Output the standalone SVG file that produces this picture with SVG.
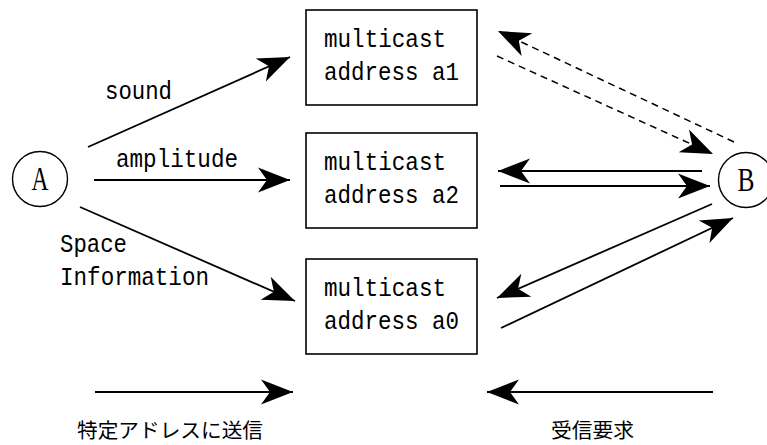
<svg xmlns="http://www.w3.org/2000/svg" width="767" height="445" viewBox="0 0 767 445">
<style>
.t{font-family:"Liberation Mono","DejaVu Sans Mono",monospace;font-size:26px;fill:#000}
.j{font-family:"Noto Sans CJK JP","Noto Sans CJK SC",sans-serif;font-size:20px;fill:#000}
.box{fill:#fff;stroke:#000;stroke-width:1.6}
.c{fill:#fff;stroke:#000;stroke-width:1.4}
.l{fill:none;stroke:#000;stroke-width:1.8}
.d{fill:none;stroke:#000;stroke-width:1.5;stroke-dasharray:7,5}
.big{font-family:"Liberation Serif","DejaVu Serif",serif;font-size:34px;fill:#000}
</style>
<defs>
<marker id="ah" markerUnits="userSpaceOnUse" markerWidth="36" markerHeight="30" viewBox="-33 -14 36 28" refX="0" refY="0" orient="auto">
<path d="M0,0 L-32,-12.5 L-23,0 L-32,12.5 Z" fill="#000"/>
</marker>
</defs>
<rect width="767" height="445" fill="#fff"/>
<g id="connectors">
<line class="l" x1="88" y1="147" x2="290" y2="57" marker-end="url(#ah)"/>
<line class="l" x1="94" y1="180" x2="290" y2="180" marker-end="url(#ah)"/>
<line class="l" x1="80" y1="207" x2="295" y2="301" marker-end="url(#ah)"/>
<line class="d" x1="734" y1="142" x2="498" y2="31" marker-end="url(#ah)"/>
<line class="d" x1="497" y1="56" x2="713" y2="154" marker-end="url(#ah)"/>
<line class="l" x1="702" y1="171" x2="498" y2="171" marker-end="url(#ah)"/>
<line class="l" x1="500" y1="186" x2="710" y2="186" marker-end="url(#ah)"/>
<line class="l" x1="712" y1="204" x2="497" y2="298" marker-end="url(#ah)"/>
<line class="l" x1="501" y1="328" x2="733" y2="218" marker-end="url(#ah)"/>
<line class="l" x1="95" y1="392" x2="293" y2="392" marker-end="url(#ah)"/>
<line class="l" x1="713" y1="392" x2="487" y2="392" marker-end="url(#ah)"/>
</g>
<g id="nodeA">
<circle class="c" cx="40" cy="179" r="27.5"/>
<text class="big" x="40" y="190" text-anchor="middle" textLength="17" lengthAdjust="spacingAndGlyphs">A</text>
</g>
<g id="nodeB">
<circle class="c" cx="746" cy="180" r="27.5"/>
<text class="big" x="746" y="191" text-anchor="middle" textLength="17" lengthAdjust="spacingAndGlyphs">B</text>
</g>
<g id="box-a1">
<rect class="box" x="306" y="10" width="171" height="95"/>
<text class="t" x="324" y="47" textLength="122" lengthAdjust="spacingAndGlyphs">multicast</text>
<text class="t" x="324" y="80" textLength="135" lengthAdjust="spacingAndGlyphs">address a1</text>
</g>
<g id="box-a2">
<rect class="box" x="306" y="133" width="171" height="95"/>
<text class="t" x="324" y="170" textLength="122" lengthAdjust="spacingAndGlyphs">multicast</text>
<text class="t" x="324" y="203" textLength="135" lengthAdjust="spacingAndGlyphs">address a2</text>
</g>
<g id="box-a0">
<rect class="box" x="306" y="259" width="171" height="95"/>
<text class="t" x="324" y="296" textLength="122" lengthAdjust="spacingAndGlyphs">multicast</text>
<text class="t" x="324" y="329" textLength="135" lengthAdjust="spacingAndGlyphs">address a0</text>
</g>
<g id="labels">
<text class="t" x="105" y="99" textLength="67" lengthAdjust="spacingAndGlyphs">sound</text>
<text class="t" x="116" y="167" textLength="122" lengthAdjust="spacingAndGlyphs">amplitude</text>
<text class="t" x="60" y="252" textLength="67" lengthAdjust="spacingAndGlyphs">Space</text>
<text class="t" x="60" y="285" textLength="149" lengthAdjust="spacingAndGlyphs">Information</text>
<text class="j" x="77" y="438" textLength="186" lengthAdjust="spacingAndGlyphs">特定アドレスに送信</text>
<text class="j" x="551" y="438" textLength="83" lengthAdjust="spacingAndGlyphs">受信要求</text>
</g>
</svg>
